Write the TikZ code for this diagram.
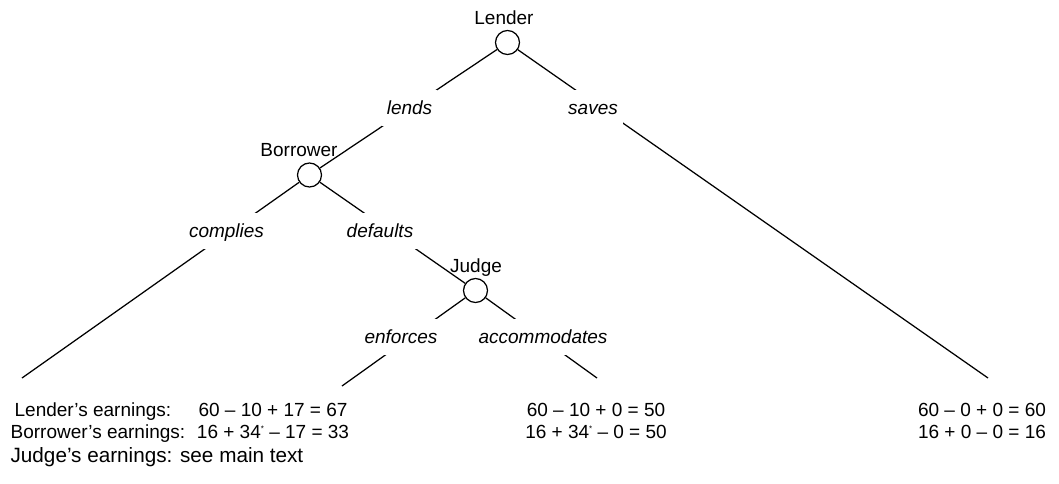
\documentclass[tikz,border=0pt]{standalone}
\usepackage{fontspec}
\setmainfont{Liberation Sans}

\newcommand{\gamefont}{\fontsize{19}{22}\selectfont}
\newcommand{\notefont}{\fontsize{20.7}{24}\selectfont}
\newcommand{\adjstar}{\raisebox{7pt}{\fontsize{8}{8}\selectfont *}}

\begin{document}
\begin{tikzpicture}[x=1pt,y=-1pt,line width=1.25pt,font=\gamefont,
  player/.style={circle,draw,minimum size=24pt,inner sep=0pt},
  plabel/.style={text depth=0pt,label distance=1.5pt},
  move/.style={font=\gamefont\itshape,fill=white,inner xsep=5pt,inner ysep=0pt,
    text height=13.5pt,text depth=0pt,minimum height=36pt},
  pay/.style={inner sep=0pt}]
\useasboundingbox (0,0) rectangle (1059,483);

% decision nodes
\node[player,label={[plabel,xshift=-3.5pt]above:Lender}] (lender) at (507.5,42.5) {};
\node[player,label={[plabel,xshift=-10.5pt]above:Borrower}] (borrower) at (309.5,175) {};
\node[player,label={[plabel,xshift=0.5pt]above:Judge}] (judge) at (475.5,290.5) {};

% end points of the branches
\coordinate (leafC) at (22,378);
\coordinate (leafE) at (342,386);
\coordinate (leafA) at (597,378);
\coordinate (leafS) at (988,378);

\foreach \a/\b in {lender/borrower,lender/leafS,borrower/leafC,borrower/judge,judge/leafE,judge/leafA}
  \draw (\a) -- (\b);

% moves, drawn over the branches
\foreach \t/\x/\y in {lends/409.5/108,saves/593/107.5,complies/226.5/231,defaults/380/231,enforces/401/337,accommodates/543/337}
  \node[move] (\t) at (\x,\y) {\t};

% earnings
\node[pay,anchor=base west] (lenderrow) at (14,416.8) {Lender’s earnings:};
\node[pay,anchor=base west] (borrowerrow) at (10,438.3) {Borrower’s earnings:};
\node[pay,anchor=base west,font=\notefont] (judgerow) at (10,462.8) {Judge’s earnings: see main text};

\foreach \n/\x/\l/\b in {C/273/{60 – 10 + 17 = 67}/{16 + 34\adjstar{} – 17 = 33},
    A/596/{60 – 10 + 0 = 50}/{16 + 34\adjstar{} – 0 = 50},
    S/982/{60 – 0 + 0 = 60}/{16 + 0 – 0 = 16}}{
  \node[pay,anchor=base] (payL\n) at (\x,416.8) {\l};
  \node[pay,anchor=base] (payB\n) at (\x,438.3) {\b};
}
\end{tikzpicture}
\end{document}
